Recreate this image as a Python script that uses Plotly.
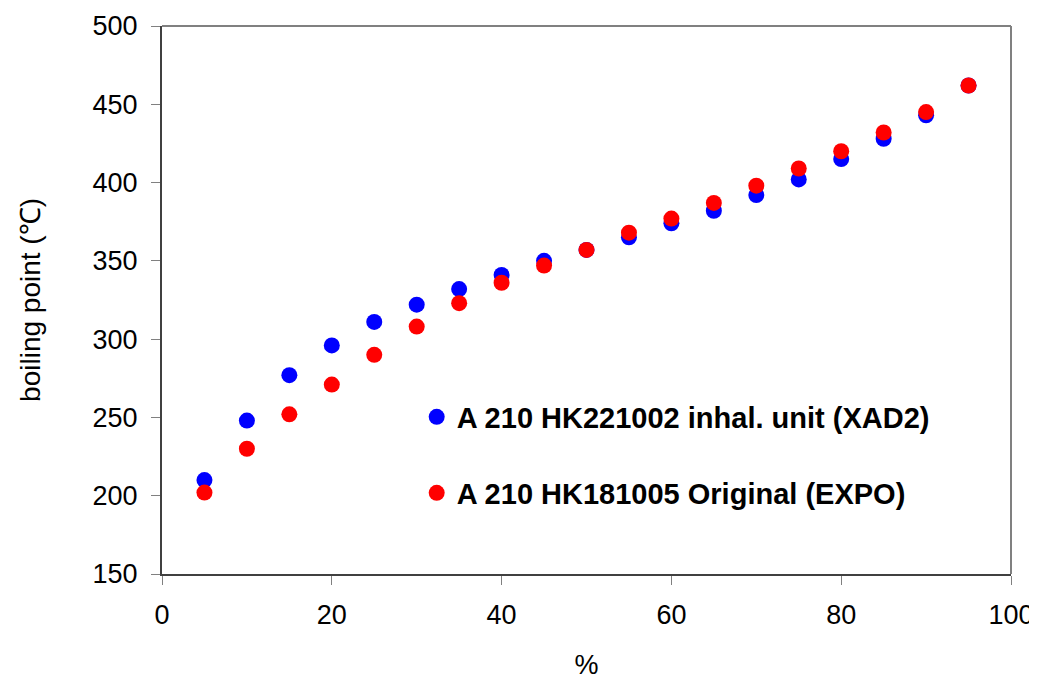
import plotly.graph_objects as go

percent = [5, 10, 15, 20, 25, 30, 35, 40, 45, 50, 55, 60, 65, 70, 75, 80, 85, 90, 95]
xad2 = [210, 248, 277, 296, 311, 322, 332, 341, 350, 357, 365, 374, 382, 392, 402, 415, 428, 443, 462]
expo = [202, 230, 252, 271, 290, 308, 323, 336, 347, 357, 368, 377, 387, 398, 409, 420, 432, 445, 462]
name_xad2 = "A 210 HK221002 inhal. unit (XAD2)"
name_expo = "A 210 HK181005 Original (EXPO)"

FONT = "Liberation Sans, Arial, sans-serif"

fig = go.Figure()
fig.add_trace(go.Scatter(x=percent, y=xad2, mode="markers", name=name_xad2, showlegend=True,
                         marker=dict(color="#0000FF", size=16, line=dict(width=0)),
                         legend="legend"))
fig.add_trace(go.Scatter(x=percent, y=expo, mode="markers", name=name_expo, showlegend=True,
                         marker=dict(color="#FF0000", size=16, line=dict(width=0)),
                         legend="legend2"))

legend_common = dict(bgcolor="rgba(0,0,0,0)", font=dict(family=FONT, size=29, color="black", weight="bold"),
                     xanchor="left", yanchor="middle", itemsizing="trace", borderwidth=0, visible=True)

fig.update_layout(
    width=1029, height=672,
    showlegend=True,
    margin=dict(l=154, r=26, t=18, b=106, autoexpand=False),
    paper_bgcolor="white", plot_bgcolor="white",
    font=dict(family=FONT, size=27, color="black"),
    legend=dict(x=0.30, y=0.2865, **legend_common),
    legend2=dict(x=0.30, y=0.1478, **legend_common),
    xaxis=dict(range=[0, 100], tickvals=[0, 20, 40, 60, 80, 100], showgrid=False, zeroline=False,
               showline=True, linecolor="#404040", linewidth=2, automargin=False,
               ticks="outside", ticklen=9, tickcolor="#808080", tickwidth=1,
               ticklabelstandoff=7, ticklabeloverflow="allow",
               title=dict(text="%", font=dict(size=27), standoff=33)),
    yaxis=dict(range=[150, 500], tickvals=[150, 200, 250, 300, 350, 400, 450, 500], showgrid=False, zeroline=False,
               showline=True, linecolor="#404040", linewidth=2, automargin=False,
               ticks="outside", ticklen=9, tickcolor="#808080", tickwidth=1,
               ticklabelstandoff=8,
               title=dict(text="boiling point (℃)", font=dict(size=28), standoff=44)),
    shapes=[
        dict(type="line", xref="paper", yref="paper", x0=0, x1=1, y0=1, y1=1,
             line=dict(color="#808080", width=2)),
        dict(type="line", xref="paper", yref="paper", x0=1, x1=1, y0=0, y1=1,
             line=dict(color="#808080", width=2)),
    ],
)

fig.write_html("out.html")
